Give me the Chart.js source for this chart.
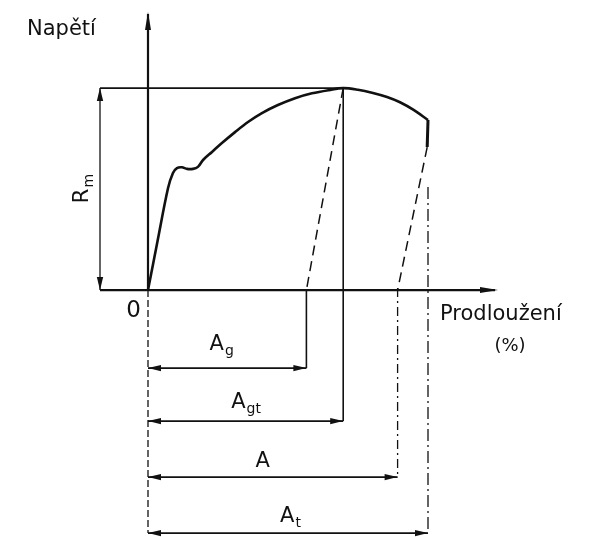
<!DOCTYPE html>
<html><head><meta charset="utf-8">
<script src="https://cdn.jsdelivr.net/npm/chart.js@4"></script>
<style>html,body{margin:0;padding:0;background:#fff}#wrap{width:595px;height:537px;position:relative}</style>
</head><body><div id="wrap"><canvas id="c"></canvas></div>
<script>
// ---- data (elongation in %, stress in MPa) ----
const curveStrain = [0, 0.6, 1.25, 1.56, 1.81, 2.12, 2.44, 2.81, 3.12, 3.44, 4.0, 4.62, 5.44, 6.25, 7.12, 8.12, 9.19, 10.25, 11.3, 12.2, 13.12, 14.06, 14.94, 15.75, 16.6, 17.5];
const curveStress = [0, 122, 252, 290, 302, 304, 300, 300, 305, 322, 342, 364, 391, 416, 438, 458, 475, 487, 495, 500, 496, 488, 478, 465, 446, 421];
const fractureStrain = [17.5, 17.45];
const fractureStress = [421, 354];
const Rm = 500;
const dimNames = ['Ag', 'Agt', 'A', 'At'];
const dimValues = [9.9, 12.2, 15.6, 17.5];
const dimMain = ['A', 'A', 'A', 'A'];
const dimSub = ['g', 'gt', '', 't'];
const yTitle = 'Napětí';
const xTitle = 'Prodloužení';
const xUnit = '(%)';
const originLabel = '0';
const rmMain = 'R', rmSub = 'm';
const xRange = [-9.25, 27.9375];
const yRange = [-611, 718];

const val = n => dimValues[dimNames.indexOf(n)];
const INK = '#111';

function arrow(ctx, x, y, dir, len = 13, hw = 3.2) {
  ctx.beginPath();
  ctx.moveTo(x, y);
  if (dir === 'up') { ctx.lineTo(x - hw, y + len); ctx.lineTo(x + hw, y + len); }
  if (dir === 'down') { ctx.lineTo(x - hw, y - len); ctx.lineTo(x + hw, y - len); }
  if (dir === 'left') { ctx.lineTo(x + len, y - hw); ctx.lineTo(x + len, y + hw); }
  if (dir === 'right') { ctx.lineTo(x - len, y - hw); ctx.lineTo(x - len, y + hw); }
  ctx.closePath();
  ctx.fill();
}
function line(ctx, x1, y1, x2, y2, w, dash) {
  ctx.save();
  ctx.lineWidth = w;
  ctx.setLineDash(dash || []);
  ctx.beginPath(); ctx.moveTo(x1, y1); ctx.lineTo(x2, y2); ctx.stroke();
  ctx.restore();
}
function subText(ctx, main, sub, cx, baseline, size, subSize) {
  ctx.font = size + 'px "DejaVu Sans"';
  const w1 = ctx.measureText(main).width;
  ctx.font = subSize + 'px "DejaVu Sans"';
  const w2 = sub ? ctx.measureText(sub).width : 0;
  const x0 = cx - (w1 + w2) / 2;
  ctx.textAlign = 'left'; ctx.textBaseline = 'alphabetic';
  ctx.font = size + 'px "DejaVu Sans"';
  ctx.fillText(main, x0, baseline);
  if (sub) { ctx.font = subSize + 'px "DejaVu Sans"'; ctx.fillText(sub, x0 + w1 + 1, baseline + 5); }
}

const decor = {
  id: 'decor',
  afterDatasetsDraw(chart) {
    const ctx = chart.ctx, xs = chart.scales.x, ys = chart.scales.y;
    const X = v => xs.getPixelForValue(v), Y = v => ys.getPixelForValue(v);
    const X0 = X(0), Y0 = Y(0), YR = Y(Rm);
    const dimX = X0 - 48;
    const rows = [78, 131, 187, 243].map(o => Y0 + o);
    const labelOff = [-18, -13, -10, -11];
    const labelShift = [-6, 0, -10, 2];
    ctx.save();
    ctx.strokeStyle = INK; ctx.fillStyle = INK;
    // y axis
    line(ctx, X0, 14, X0, Y0, 2.2);
    arrow(ctx, X0, 12, 'up', 18, 3);
    line(ctx, X0, Y0, X0, rows[3], 1.3, [7, 3]);
    // x axis
    line(ctx, dimX, Y0, 495, Y0, 2.2);
    arrow(ctx, 498, Y0, 'right', 18, 3);
    // Rm level line and dimension
    line(ctx, dimX, YR, X(val('Agt')), YR, 1.8);
    line(ctx, dimX, YR, dimX, Y0, 1.3);
    arrow(ctx, dimX, YR, 'up'); arrow(ctx, dimX, Y0, 'down');
    // extension lines
    line(ctx, X(val('Ag')), Y0, X(val('Ag')), rows[0], 1.6);
    line(ctx, X(val('Agt')), YR, X(val('Agt')), rows[1], 1.6);
    line(ctx, X(val('A')), Y0 - 2, X(val('A')), rows[2], 1.3, [9, 4, 2, 4]);
    line(ctx, X(val('At')), Y(fractureStress[1]) + 40, X(val('At')), rows[3], 1.3, [12, 4, 2, 4]);
    // dimension rows
    dimNames.forEach((n, i) => {
      const x2 = X(dimValues[i]);
      line(ctx, X0, rows[i], x2, rows[i], 1.6);
      arrow(ctx, X0, rows[i], 'left'); arrow(ctx, x2, rows[i], 'right');
      subText(ctx, dimMain[i], dimSub[i], (X0 + x2) / 2 + labelShift[i], rows[i] + labelOff[i], 21, 14);
    });
    // titles
    ctx.textBaseline = 'alphabetic';
    ctx.font = '21px "DejaVu Sans"'; ctx.textAlign = 'left';
    ctx.fillText(yTitle, 27, 35);
    ctx.fillText(xTitle, 440, 320);
    ctx.textAlign = 'center'; ctx.font = '18px "DejaVu Sans"';
    ctx.fillText(xUnit, 510, 351);
    ctx.textAlign = 'right'; ctx.font = '23px "DejaVu Sans"';
    ctx.fillText(originLabel, X0 - 7, Y0 + 27);
    // Rm rotated
    ctx.save();
    ctx.translate(88, (YR + Y0) / 2);
    ctx.rotate(-Math.PI / 2);
    subText(ctx, rmMain, rmSub, 0, 0, 21, 14);
    ctx.restore();
    ctx.restore();
  }
};

new Chart(document.getElementById('c'), {
  type: 'scatter',
  data: {
    datasets: [
      { data: curveStrain.map((x, i) => ({ x, y: curveStress[i] })), showLine: true, borderColor: INK, borderWidth: 2.6, pointRadius: 0, tension: 0.35 },
      { data: fractureStrain.map((x, i) => ({ x, y: fractureStress[i] })), showLine: true, borderColor: INK, borderWidth: 3, pointRadius: 0 },
      { data: [{ x: val('Agt'), y: Rm }, { x: val('Ag'), y: 0 }], showLine: true, borderColor: INK, borderWidth: 1.5, borderDash: [10, 6], pointRadius: 0 },
      { data: [{ x: fractureStrain[1], y: fractureStress[1] }, { x: val('A'), y: 0 }], showLine: true, borderColor: INK, borderWidth: 1.5, borderDash: [10, 6], pointRadius: 0 }
    ]
  },
  options: {
    responsive: true, maintainAspectRatio: false, animation: false,
    layout: { padding: 0 },
    plugins: { legend: { display: false }, tooltip: { enabled: false } },
    scales: {
      x: { type: 'linear', min: xRange[0], max: xRange[1], display: false },
      y: { type: 'linear', min: yRange[0], max: yRange[1], display: false }
    }
  },
  plugins: [decor]
});
</script></body></html>
